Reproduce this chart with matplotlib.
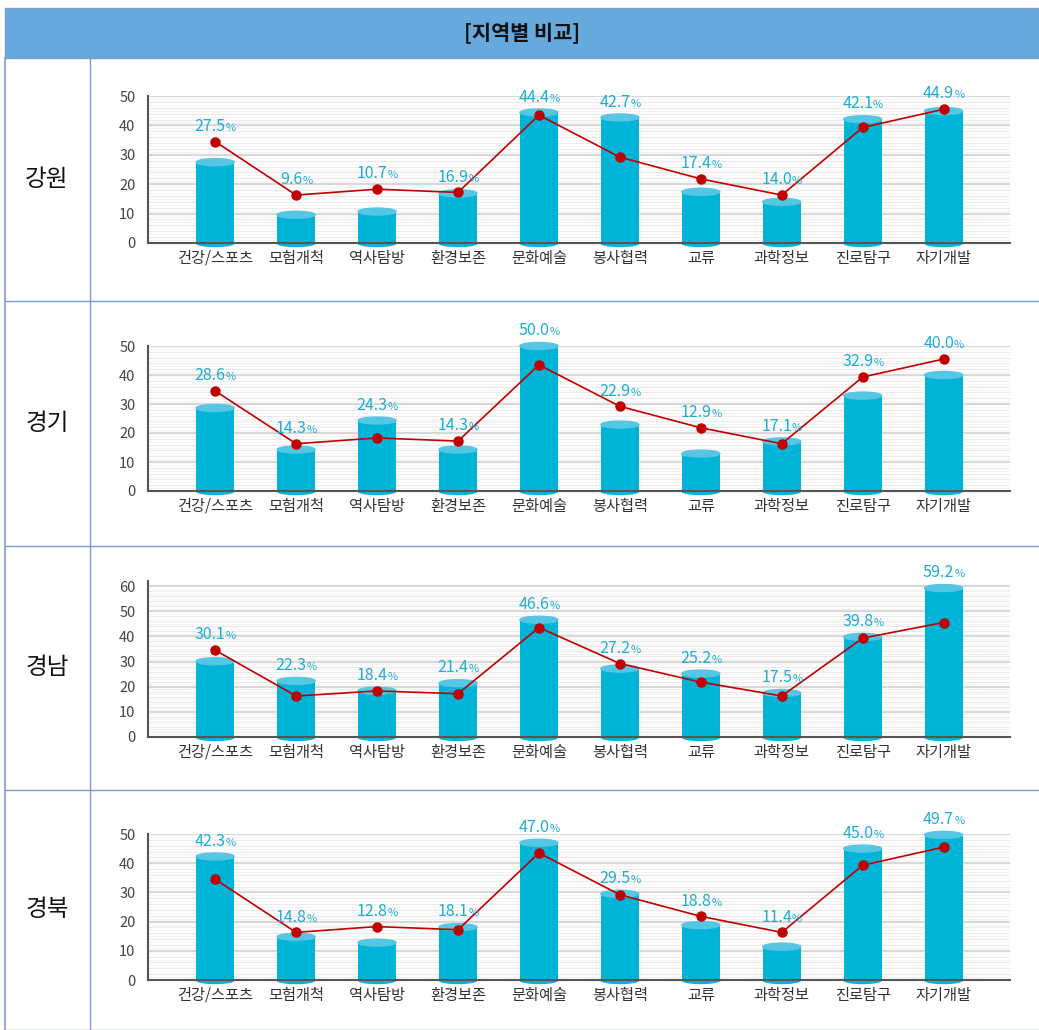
import matplotlib.pyplot as plt
import matplotlib
from matplotlib.patches import Ellipse, Rectangle
from matplotlib.lines import Line2D
from matplotlib.offsetbox import TextArea, HPacker, AnnotationBbox

matplotlib.rcParams['font.family'] = ['Noto Sans CJK KR', 'DejaVu Sans']

W, H = 1039, 1030

title = '[지역별 비교]'
regions = ['강원', '경기', '경남', '경북']
categories = ['건강/스포츠', '모험개척', '역사탐방', '환경보존', '문화예술',
              '봉사협력', '교류', '과학정보', '진로탐구', '자기개발']

gangwon = [27.5, 9.6, 10.7, 16.9, 44.4, 42.7, 17.4, 14.0, 42.1, 44.9]
gyeonggi = [28.6, 14.3, 24.3, 14.3, 50.0, 22.9, 12.9, 17.1, 32.9, 40.0]
gyeongnam = [30.1, 22.3, 18.4, 21.4, 46.6, 27.2, 25.2, 17.5, 39.8, 59.2]
gyeongbuk = [42.3, 14.8, 12.8, 18.1, 47.0, 29.5, 18.8, 11.4, 45.0, 49.7]
national = [34.5, 16.3, 18.3, 17.2, 43.5, 29.2, 21.8, 16.3, 39.3, 45.5]

region_values = [gangwon, gyeonggi, gyeongnam, gyeongbuk]
y_max_tick = [50, 50, 60, 50]

# layout in pixels: (row top, row bottom), (axes zero y, axes top y)
rows = [(58, 301), (301, 546), (546, 790), (790, 1030)]
axes_px = [(243, 96), (491, 346), (737, 581), (980, 834)]
ylims = [50, 50, 62, 50]

BAR = '#00B4D8'
BAR_TOP = '#55C6E4'
LABEL = '#1BAED6'
LINE = '#C00000'
BORDER = '#7F9CCB'

fig = plt.figure(figsize=(W / 100, H / 100), dpi=100)
fig.patch.set_facecolor('white')


def fx(px):
    return px / W


def fy(py):
    return 1 - py / H


# title bar
fig.add_artist(Rectangle((fx(5), fy(58)), fx(1039 - 5), (58 - 8) / H,
                         transform=fig.transFigure, facecolor='#66A9DD',
                         edgecolor=BORDER, linewidth=1))
fig.text(fx(522), fy(33), title, ha='center', va='center',
         fontsize=15, fontweight='bold', color='#111')

# table lines
for top, bottom in rows:
    fig.add_artist(Line2D([fx(5), fx(1039)], [fy(bottom), fy(bottom)],
                          transform=fig.transFigure, color=BORDER, lw=1))
fig.add_artist(Line2D([fx(5), fx(5)], [fy(58), fy(1030)],
                      transform=fig.transFigure, color=BORDER, lw=1.2))
fig.add_artist(Line2D([fx(90), fx(90)], [fy(58), fy(1030)],
                      transform=fig.transFigure, color=BORDER, lw=1))

x = list(range(len(categories)))
bw = 0.47

for i, (name, vals) in enumerate(zip(regions, region_values)):
    top, bottom = rows[i]
    fig.text(fx(47), fy((top + bottom) / 2), name, ha='center', va='center',
             fontsize=17, color='#111')

    y0, y1 = axes_px[i]
    ax = fig.add_axes([fx(148), fy(y0), fx(1010 - 148), (y0 - y1) / H])
    ax.set_xlim(-0.83, 9.82)
    ax.set_ylim(0, ylims[i])
    px_per_unit = (y0 - y1) / ylims[i]
    eh = 7 / px_per_unit

    # striped background lines
    for v in range(1, y_max_tick[i] + 1):
        if v % 10 == 0:
            ax.axhline(v, color='#D8D8D8', lw=1.6, zorder=0)
        elif v % 2 == 0:
            ax.axhline(v, color='#EFEAEA', lw=0.9, zorder=0)
        else:
            ax.axhline(v, color='#F6F4F4', lw=0.8, zorder=0)

    ax.bar(x, vals, width=bw, color=BAR, zorder=2, clip_on=False)
    for xi, v in zip(x, vals):
        ax.add_patch(Ellipse((xi, 0), bw, eh, color=BAR, zorder=1.9,
                             clip_on=False))
        ax.add_patch(Ellipse((xi, v), bw, eh, color=BAR_TOP, zorder=3,
                             clip_on=False))

    ax.plot(x, national, color=LINE, lw=1.2, marker='o', ms=6.5,
            zorder=4, clip_on=False)

    for xi, v, n in zip(x, vals, national):
        num = TextArea(f'{v:.1f}', textprops=dict(color=LABEL, fontsize=11.5))
        pct = TextArea('%', textprops=dict(color=LABEL, fontsize=8))
        box = HPacker(children=[num, pct], align='baseline', pad=0, sep=0)
        ab = AnnotationBbox(box, (xi, max(v, n)), xybox=(0, 11),
                            xycoords='data', boxcoords='offset points',
                            frameon=False, zorder=5, annotation_clip=False)
        ax.add_artist(ab)

    ax.set_yticks(range(0, y_max_tick[i] + 1, 10))
    ax.set_xticks(x)
    ax.set_xticklabels(categories, fontsize=11, color='#333')
    ax.tick_params(axis='y', length=0, labelsize=10.5, labelcolor='#444', pad=9)
    ax.tick_params(axis='x', length=0, pad=5)
    for s in ['top', 'right']:
        ax.spines[s].set_visible(False)
    ax.spines['left'].set_color('#555')
    ax.spines['left'].set_linewidth(1.5)
    ax.spines['bottom'].set_color('#555')
    ax.spines['bottom'].set_linewidth(1.5)
    ax.spines['bottom'].set_zorder(6)
    ax.set_facecolor('none')

fig.savefig('out.png', dpi=100, facecolor='white')
